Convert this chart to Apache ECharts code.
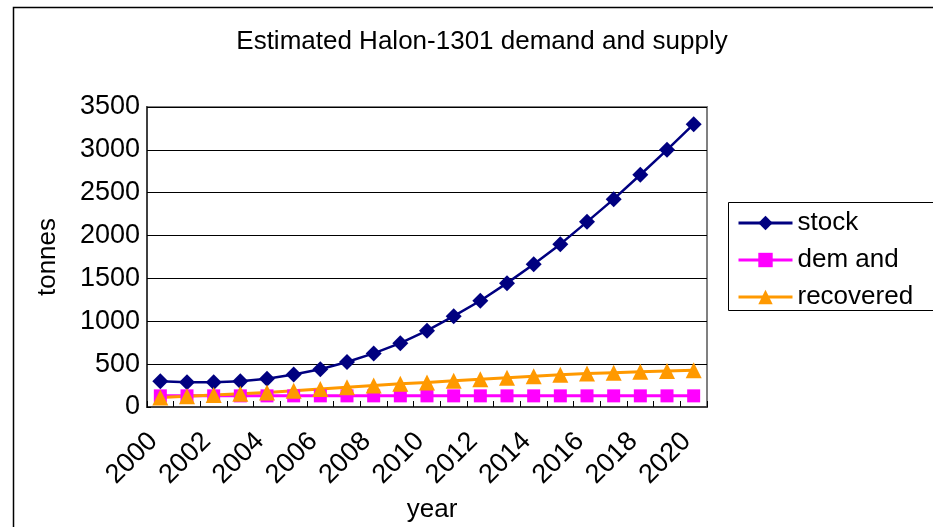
<!DOCTYPE html>
<html>
<head>
<meta charset="utf-8">
<script src="https://cdn.jsdelivr.net/npm/echarts@6/dist/echarts.min.js"></script>
<style>
  html, body { margin: 0; padding: 0; background: #fff; }
  #chart { width: 933px; height: 527px; }
</style>
</head>
<body>
<div id="chart"></div>
<script>
// Years on the category axis
var years = ['2000','2001','2002','2003','2004','2005','2006','2007','2008','2009','2010',
             '2011','2012','2013','2014','2015','2016','2017','2018','2019','2020'];
// Halon-1301 quantities in tonnes
var stock = [300, 290, 290, 300, 330, 380, 440, 525, 625, 745, 890,
             1060, 1240, 1445, 1665, 1900, 2160, 2425, 2710, 3000, 3300];
var demand = [130, 130, 130, 130, 130, 130, 130, 130, 130, 130, 130,
              130, 130, 130, 130, 130, 130, 130, 130, 130, 130];
var recovered = [110, 125, 140, 155, 170, 190, 210, 230, 250, 270, 285,
                 305, 325, 340, 360, 375, 390, 400, 410, 420, 430];
var seriesNames = ['stock', 'dem and', 'recovered'];

var FONT = '"Liberation Sans", Arial, sans-serif';

var chart = echarts.init(document.getElementById('chart'), null, { renderer: 'canvas' });

chart.setOption({
  backgroundColor: '#ffffff',
  animation: false,
  title: {
    text: 'Estimated Halon-1301 demand and supply',
    left: 477,
    top: 24,
    textAlign: 'center',
    textStyle: { fontFamily: FONT, fontSize: 26, fontWeight: 'normal', color: '#000' }
  },
  graphic: [
    // outer chart frame
    { type: 'rect', shape: { x: 13.5, y: 7.5, width: 1000, height: 600 },
      style: { fill: null, stroke: '#000', lineWidth: 1.5 }, silent: true, z: -10 },
    // legend frame
    { type: 'rect', shape: { x: 728.5, y: 202.5, width: 300, height: 108 },
      style: { fill: '#fff', stroke: '#000', lineWidth: 1 }, silent: true, z: -5 }
  ],
  legend: {
    orient: 'vertical',
    left: 737,
    top: 210,
    padding: 0,
    itemWidth: 54,
    itemHeight: 18,
    itemGap: 11,
    lineStyle: { width: 3 },
    textStyle: { fontFamily: FONT, fontSize: 26, color: '#000', lineHeight: 26 },
    data: seriesNames
  },
  grid: {
    left: 147, top: 107, width: 560, height: 300,
    outerBoundsMode: 'none',
    containLabel: false,
    show: true, borderColor: '#808080', borderWidth: 2, backgroundColor: '#fff'
  },
  xAxis: {
    type: 'category',
    data: years,
    boundaryGap: true,
    name: 'year',
    nameLocation: 'middle',
    nameGap: 90,
    nameTextStyle: { fontFamily: FONT, fontSize: 26, color: '#000', padding: [0, 0, 0, 10] },
    axisLine: { lineStyle: { color: '#404040', width: 2 } },
    axisTick: { show: true, inside: true, length: 6, interval: 0, lineStyle: { color: '#000' } },
    axisLabel: { interval: 1, rotate: 45, margin: 23, padding: [0, 10, 0, 0],
                 fontFamily: FONT, fontSize: 27, color: '#000' }
  },
  yAxis: {
    type: 'value',
    min: 0, max: 3500, interval: 500,
    name: 'tonnes',
    nameLocation: 'middle',
    nameRotate: 90,
    nameGap: 86,
    nameTextStyle: { fontFamily: FONT, fontSize: 26, color: '#000' },
    axisLine: { show: true, lineStyle: { color: '#404040', width: 2 } },
    axisTick: { show: true, inside: true, length: 4, lineStyle: { color: '#000' } },
    axisLabel: { margin: 7, fontFamily: FONT, fontSize: 27, color: '#000',
                 formatter: function (v) { return String(v); } },
    splitLine: { show: true, lineStyle: { color: '#000', width: 1 } }
  },
  series: [
    { name: seriesNames[0], type: 'line', data: stock,
      symbol: 'diamond', symbolSize: 16,
      lineStyle: { color: '#000080', width: 2.5 },
      itemStyle: { color: '#000080' } },
    { name: seriesNames[1], type: 'line', data: demand,
      symbol: 'rect', symbolSize: 13,
      lineStyle: { color: '#FF00FF', width: 3 },
      itemStyle: { color: '#FF00FF' } },
    { name: seriesNames[2], type: 'line', data: recovered,
      symbol: 'triangle', symbolSize: 16,
      lineStyle: { color: '#FF9900', width: 3 },
      itemStyle: { color: '#FF9900' } }
  ]
});
</script>
</body>
</html>
